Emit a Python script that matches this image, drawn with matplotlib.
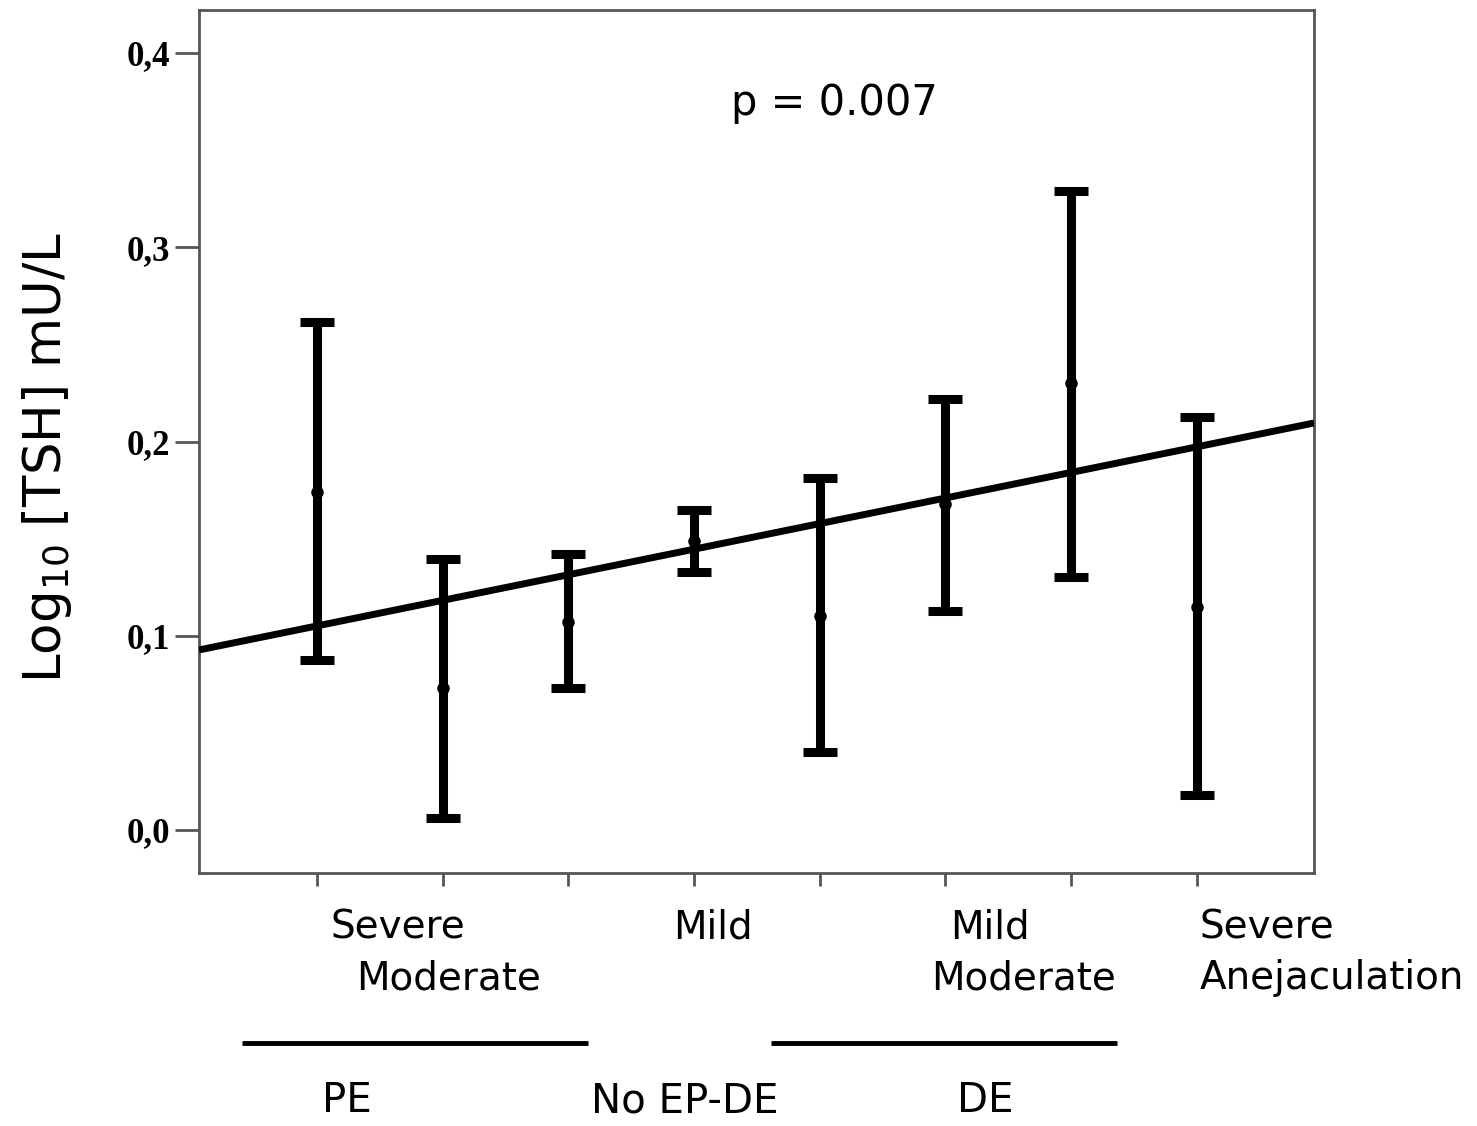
import numpy as np
import matplotlib.pyplot as plt
import matplotlib.transforms as mtransforms

# severity groups, ordered along the x axis
groups = [1, 2, 3, 4, 5, 6, 7, 8]
means = [0.174, 0.073, 0.107, 0.149, 0.110, 0.168, 0.230, 0.115]
upper = [0.2615, 0.1395, 0.142, 0.165, 0.181, 0.222, 0.329, 0.2125]
lower = [0.0875, 0.006, 0.073, 0.133, 0.040, 0.113, 0.130, 0.018]

# fitted trend: intercept, slope
fit_coef = [0.0919, 0.01317]

ytick_vals = [0.0, 0.1, 0.2, 0.3, 0.4]
ytick_labels = ['0,0', '0,1', '0,2', '0,3', '0,4']
sev_labels = ['Severe', 'Moderate', 'Mild', 'Mild', 'Moderate', 'Severe', 'Anejaculation']
group_labels = ['PE', 'No EP-DE', 'DE']
p_text = 'p = 0.007'

means = np.array(means)
err = [means - np.array(lower), np.array(upper) - means]

fig = plt.figure(figsize=(14.77, 11.26), dpi=100)
ax = fig.add_axes([0.1347, 0.2247, 0.7549, 0.7664])

ax.errorbar(groups, means, yerr=err, fmt='o', color='black', ecolor='black',
            markersize=8, elinewidth=6.5, capsize=12, capthick=6.5, zorder=3)

xl = np.array([0.0613, 8.931])
ax.plot(xl, fit_coef[0] + fit_coef[1] * xl, color='black', lw=5, zorder=4,
        solid_capstyle='butt')

ax.set_xlim(0.0613, 8.931)
ax.set_ylim(-0.0221, 0.4221)
ax.set_yticks(ytick_vals)
ax.set_yticklabels(ytick_labels)
ax.set_xticks(groups)
ax.set_xticklabels([])

spine_col = '#555555'
for s in ax.spines.values():
    s.set_color(spine_col)
    s.set_linewidth(2)
ax.tick_params(axis='y', length=17, width=2, color=spine_col, pad=4, labelsize=25)
ax.tick_params(axis='x', length=9, width=2, color=spine_col)
for lab in ax.get_yticklabels():
    lab.set_fontfamily('Liberation Serif')
    lab.set_fontweight('bold')

ax.set_ylabel(r'Log$_{10}$ [TSH] mU/L', fontsize=37)
ax.yaxis.set_label_coords(-0.112, 0.482)

ax.text(0.57, 0.892, p_text, transform=ax.transAxes, fontsize=30,
        ha='center', va='center')

# category labels under the x axis
trans = mtransforms.blended_transform_factory(ax.transData, fig.transFigure)
lab_x = [1.644, 2.05, 4.15, 6.35, 6.62, 8.02, 8.02]
lab_y = [0.176, 0.131, 0.176, 0.176, 0.131, 0.176, 0.131]
lab_ha = ['center', 'center', 'center', 'center', 'center', 'left', 'left']
for t, x, y, ha in zip(sev_labels, lab_x, lab_y, lab_ha):
    ax.text(x, y, t, transform=trans, fontsize=28, ha=ha, va='center')

# group brackets
for x0, x1 in [(0.403, 3.156), (4.612, 7.364)]:
    ax.plot([x0, x1], [0.0737, 0.0737], transform=trans, color='black',
            lw=3.5, clip_on=False, solid_capstyle='butt')
for t, x in zip(group_labels, [1.239, 3.927, 6.313]):
    ax.text(x, 0.022, t, transform=trans, fontsize=29, ha='center', va='center')

fig.savefig('out.png', dpi=100)
